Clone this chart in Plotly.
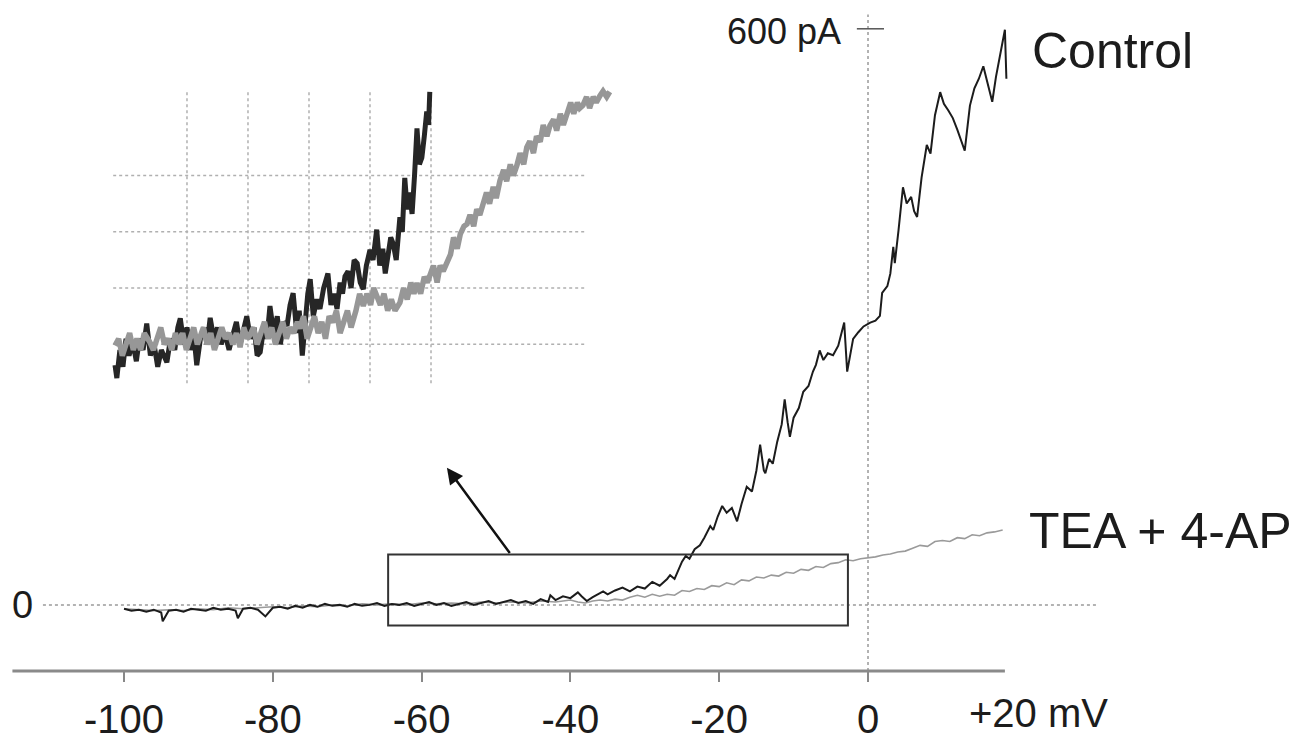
import plotly.graph_objects as go

# ---------------- data ----------------
# Main panel: membrane potential (mV) vs current (pA)
ctrl_mv = [-100, -99, -98, -97, -96, -95, -94.8, -94, -93, -92, -91, -90, -89, -88, -87, -86, -85, -84.7,
           -84, -83, -82, -81, -80, -79, -78, -77, -76, -75, -74, -73, -72, -71, -70, -69, -68, -67, -66,
           -65, -64, -63, -62, -61, -60, -59, -58, -57, -56, -55, -54, -53, -52, -51, -50, -49, -48, -47,
           -46, -45, -44, -43, -42.7, -42, -41, -40, -39, -38.5, -37.8, -37, -36, -35.6, -35, -34, -33,
           -32, -31, -30, -29, -28, -27, -26.6, -26, -25.3, -25, -24.5, -24, -23.3, -22.6, -22, -21.2,
           -20.8, -20.2, -19.6, -19, -18.3, -17.6, -17, -16.3, -15.6, -15, -14.5, -14, -13.8, -13.3,
           -12.8, -12.2, -11.6, -11.2, -10.8, -10.5, -10, -9.3, -8.7, -8, -7.4, -7, -6.5, -6, -5.4, -4.7,
           -4, -3.6, -3.2, -2.8, -2.4, -2, -1.3, -0.6, 0.3, 1, 1.6, 1.9, 2.6, 3, 3.4, 3.6, 4.1, 4.7, 5.2,
           5.8, 6.2, 6.6, 7.2, 7.9, 8.4, 9, 9.7, 10.2, 10.8, 11.4, 12, 12.5, 13, 13.4, 13.7, 14.3, 14.9,
           15.5, 16, 16.7, 17.2, 17.7, 18.1, 18.4, 18.6]
ctrl_pa = [-4, -6, -5, -7, -5, -8, -17, -6, -5, -7, -4, -5, -6, -3, -5, -4, -6, -14,
           -4, -3, -5, -12, -3, -2, -4, -1, -3, 0, -2, 1, -1, 0, -2, 1, -1, 0, 2,
           -1, 1, 0, 2, -1, 1, 3, 0, 2, -1, 1, 3, 0, 2, 4, 1, 3, 5, 2,
           4, 1, 6, 3, 10, 5, 9, 7, 13, 9, 4, 8, 12, 14, 11, 15, 18,
           14, 19, 17, 24, 20, 27, 31, 27, 41, 45, 51, 48, 58, 62, 70, 82,
           78, 92, 103, 96, 101, 87, 105, 123, 118, 140, 167, 140, 137, 152,
           147, 170, 188, 214, 190, 175, 195, 205, 222, 228, 243, 250, 265, 255, 262, 260,
           270, 282, 294, 243, 262, 277, 284, 290, 294, 296, 301, 325, 332, 345, 373, 356, 390, 435, 418,
           425, 410, 404, 445, 479, 470, 510, 534, 522, 515, 507, 495, 485, 473, 500, 520, 538, 548,
           561, 545, 524, 550, 571, 585, 599, 548]

tea_mv = [-100, -98, -96, -94, -92, -90, -88, -86, -84, -82, -80, -78, -76, -74, -72, -70, -68, -66,
          -64, -62, -60, -58, -56, -54, -52, -50, -48, -46, -44, -42, -40, -39, -38, -37, -36, -35,
          -34, -33, -32, -31, -30, -29, -28, -27, -26, -25, -24, -23, -22, -21, -20, -19, -18, -17,
          -16, -15, -14, -13, -12, -11, -10, -9, -8, -7, -6, -5, -4, -3, -2, -1, 0, 1, 2, 3, 4, 5,
          6, 7, 8, 9, 10, 11, 12, 13, 14, 15, 16, 17, 18.1]
tea_pa = [-4, -5, -6, -5, -6, -4, -5, -3, -4, -3, -2, -3, -1, -2, 0, -1, 1, 0,
          1, 0, 2, 1, 2, 1, 3, 2, 3, 2, 4, 3, 5, 3, 2, 4, 5, 4,
          6, 5, 8, 10, 8, 11, 9, 11, 10, 15, 14, 17, 16, 20, 19, 23, 21, 26,
          25, 29, 28, 31, 30, 34, 33, 37, 36, 40, 39, 43, 44, 47, 46, 48, 49, 50, 52, 53, 55, 56,
          59, 62, 61, 66, 67, 66, 70, 69, 73, 72, 75, 76, 78]

# Inset: zoomed view (mV vs pA)
in_ctrl_mv = [-71.8, -71.5, -71.0, -70.5, -70, -69.5, -68.9, -68.3, -67.8, -67.2, -66.6, -66.0, -65.4,
              -64.8, -64.2, -63.3, -62.7, -62.0, -61.5, -61.1, -60.5, -60, -59.4, -58.9, -58.4, -57.8,
              -57.2, -56.7, -56.2, -55.6, -55, -54.4, -53.8, -53.1, -52.5, -51.9, -51.3, -50.7, -50.2,
              -49.6, -49, -48.5, -48, -47.4, -46.9, -46.4, -45.8, -45.2, -44.7, -44.1, -43.6, -43.1,
              -42.6, -42, -41.6, -41.1, -40.6, -40.2, -39.8, -39.3, -38.7, -38.2, -37.6, -36.9, -36.4,
              -35.9, -35.4, -34.9, -34.5, -34.1, -33.6, -33.1, -32.6, -32.1, -31.6, -31.1, -30.6, -30,
              -29.5, -28.9, -28.4, -27.9, -27.5, -27, -26.6, -26.2, -25.7, -25.1, -24.7, -24.3, -23.9,
              -23.5, -23.1, -22.7, -22.3, -21.9, -21.5, -21.1, -20.7, -20.4, -20.2]
in_ctrl_pa = [-3.7, -6, -1, -4, 1, -2, 0.4, -3, 1, -1, 3.7, -2, 0,
              -4, -1, -3.2, 1, -1, 3, 4.6, 0, 3, -1, 2, -3.7, 1,
              3, 0, 4.7, 1, 3, 0, 2, -1, 1.6, 4, 0, 3, 5,
              1, 3, -2, -1.4, 3, 1, 6.8, 2, 5, 0, 4, 3.3, 7,
              9.1, 2, 6, -2, 5, 9, 11.6, 5, 8, 6.3, 10, 12.6, 7,
              9, 6.3, 11, 9, 12.1, 13, 10, 15, 14.4, 11, 9.8, 14, 16.8,
              15, 20.4, 14, 17, 12.6, 16, 19, 17.9, 15, 22.6, 20, 29.6, 24,
              27, 23.2, 30, 38.4, 32, 33.2, 37, 41.4, 39, 44.9]

in_tea_mv = [-71.8, -71.2, -70.6, -70, -69.4, -68.8, -68.2, -67.6, -67, -66.1, -65.5, -64.9, -64.3,
             -63.7, -63.1, -62.5, -61.9, -61.3, -60.7, -60.1, -59.5, -58.9, -58.3, -57.9, -57.3, -56.7,
             -56.1, -55.5, -54.9, -54.3, -53.7, -53.1, -52.5, -51.9, -51.3, -50.7, -50.1, -49.7, -49.1,
             -48.5, -47.9, -47.3, -46.7, -46.1, -45.5, -44.9, -44.3, -43.7, -43.1, -42.5, -41.9, -41.5,
             -40.9, -40.3, -39.7, -39.1, -38.5, -37.9, -37.3, -36.7, -36.1, -35.5, -34.9, -34.3, -33.7,
             -33.1, -32.8, -32.3, -31.7, -31.1, -30.5, -29.9, -29.4, -28.9, -28.3, -27.7, -27.1, -26.5,
             -25.9, -25.1, -24.5, -23.9, -23.3, -22.8, -22.3, -21.7, -21.1, -20.6, -20.2, -19.6, -19,
             -18.5, -18, -17.4, -16.8, -16.3, -15.7, -15.2, -14.6, -14.1, -13.6, -13, -12.5, -12, -11.5,
             -10.9, -10.4, -9.8, -9.3, -8.7, -8.1, -7.6, -7, -6.5, -5.9, -5.4, -4.8, -4.3, -3.8, -3.2,
             -2.7, -2.1, -1.6, -1.0, -0.5, 0.1, 0.6, 1.2, 1.7, 2.3, 2.9, 3.4, 4, 4.4, 4.9, 5.5, 6, 6.6,
             7.1, 7.7, 8.2, 8.8, 9.3]
in_tea_pa = [-0.2, 1, -2, 0, 2, -1, 1, -1, 2, 0.4, -1, 1, 3,
             0, 1, -1, 2, 0, 2, -1, 1, 3, 0, 1, 3, 0,
             2, -1, 1, 3, 1, 2, 0, 2, -0.5, 3, 1, 1.6, 3,
             0, 2, 4, 1, 3, 0, 2, 4, 1, 3, 2, 4, 2.8,
             5, 1, 3, 5, 2, 4, 1, 5, 3.9, 6, 2, 4, 6,
             3, 3.9, 6, 9, 6.8, 9, 7, 10, 8.6, 7, 9, 6, 8,
             6, 7.4, 10, 8, 11, 9, 10.9, 9, 12, 11, 12.1, 14, 11,
             14, 13, 14.4, 16, 19, 17, 19.6, 21, 21.4, 23, 21, 24, 23, 24.9,
             27, 25, 28, 26, 29.1, 31, 29, 32, 30, 31.9, 34, 32, 35, 36.1, 34,
             37, 36, 39, 37, 38.9, 40, 38, 41, 39, 41.4, 43, 41, 43, 42, 42.5, 44, 42, 44,
             43, 44.2, 45, 44, 44.9]

main_ticks = [-100, -80, -60, -40, -20, 0]
main_tick_text = ["-100", "-80", "-60", "-40", "-20", "0"]
inset_grid_x = [-60, -50, -40, -30, -20]
inset_grid_y = [0, 10, 20, 30]
inset_labels = [(-60, "-60"), (-40, "-40")]

# ---------------- figure ----------------
FONT = "Liberation Sans, Arial, Helvetica, sans-serif"
DARK = "#1c1c1c"

fig = go.Figure()

# main traces
fig.add_trace(go.Scatter(x=tea_mv, y=tea_pa, mode="lines",
                         line=dict(color="#9a9a9a", width=1.6), xaxis="x", yaxis="y",
                         hoverinfo="skip", showlegend=False))
fig.add_trace(go.Scatter(x=ctrl_mv, y=ctrl_pa, mode="lines",
                         line=dict(color=DARK, width=2), xaxis="x", yaxis="y",
                         hoverinfo="skip", showlegend=False))
# inset traces
fig.add_trace(go.Scatter(x=in_ctrl_mv, y=in_ctrl_pa, mode="lines",
                         line=dict(color="#262626", width=5), xaxis="x2", yaxis="y2",
                         hoverinfo="skip", showlegend=False))
fig.add_trace(go.Scatter(x=in_tea_mv, y=in_tea_pa, mode="lines",
                         line=dict(color="#979797", width=5.5), xaxis="x2", yaxis="y2",
                         hoverinfo="skip", showlegend=False))

shapes = []
# main axis line
shapes.append(dict(type="line", xref="x", yref="paper", x0=-115, x1=18.4, y0=0, y1=0,
                   line=dict(color="#8a8a8a", width=3)))
# zero dotted line
shapes.append(dict(type="line", xref="x", yref="y", x0=-110.9, x1=30.8, y0=0, y1=0,
                   line=dict(color="#9a9a9a", width=1.5, dash="dot"), layer="below"))
# vertical dotted line at 0 mV
shapes.append(dict(type="line", xref="x", yref="y", x0=0, x1=0, y0=-68.86, y1=615,
                   line=dict(color="#9a9a9a", width=1.5, dash="dot"), layer="below"))
# 600 pA tick
shapes.append(dict(type="line", xref="x", yref="y", x0=-1.5, x1=2.15, y0=600, y1=600,
                   line=dict(color="#555555", width=1.5)))
# zoom box
shapes.append(dict(type="rect", xref="x", yref="y", x0=-64.5, x1=-2.7, y0=-21.6, y1=52.4,
                   line=dict(color="#333333", width=2)))
# inset grid
for gx in inset_grid_x:
    shapes.append(dict(type="line", xref="x2", yref="y2", x0=gx, x1=gx, y0=-6.9, y1=45.2,
                       line=dict(color="#b0b0b0", width=1.5, dash="dot"), layer="below"))
for gy in inset_grid_y:
    shapes.append(dict(type="line", xref="x2", yref="y2", x0=-72.1, x1=5.6, y0=gy, y1=gy,
                       line=dict(color="#b0b0b0", width=1.5, dash="dot"), layer="below"))

annotations = []
txt = dict(family=FONT, color=DARK)
annotations.append(dict(x=-113.7, y=0, xref="x", yref="y", text="0", showarrow=False,
                        font=dict(size=38, **txt), xanchor="center", yanchor="middle"))
annotations.append(dict(x=-3.4, y=600, xref="x", yref="y", text="600 pA", showarrow=False,
                        font=dict(size=36, **txt), xanchor="right", yanchor="middle", yshift=-3))
annotations.append(dict(x=21.8, y=576.6, xref="x", yref="y", text="Control", showarrow=False,
                        font=dict(size=50, **txt), xanchor="left", yanchor="middle"))
annotations.append(dict(x=21.4, y=77.1, xref="x", yref="y", text="TEA + 4-AP", showarrow=False,
                        font=dict(size=50, **txt), xanchor="left", yanchor="middle"))
annotations.append(dict(x=13.3, y=-0.0632, xref="x", yref="paper", text="+20 mV", showarrow=False,
                        font=dict(size=40, **txt), xanchor="left", yanchor="middle"))
# inset labels
for lx, lt in inset_labels:
    annotations.append(dict(x=lx, y=-11.6, xref="x2", yref="y2", text=lt, showarrow=False,
                            font=dict(size=31, **txt), xanchor="center", yanchor="middle"))
annotations.append(dict(x=-20, y=-11.6, xref="x2", yref="y2", text="-20 mV", showarrow=False,
                        font=dict(size=31, **txt), xanchor="left", yanchor="middle", xshift=-29))
# arrow from box to inset
annotations.append(dict(x=-56.6, y=142.9, ax=-48.0, ay=52.4, xref="x", yref="y",
                        axref="x", ayref="y", text="", showarrow=True, arrowhead=2,
                        arrowsize=1.3, arrowwidth=2.5, arrowcolor="#111111"))

fig.update_layout(
    width=1308, height=741,
    margin=dict(l=0, r=0, t=0, b=61),
    paper_bgcolor="white", plot_bgcolor="white",
    showlegend=False,
    shapes=shapes, annotations=annotations,
    xaxis=dict(range=[-116.67, 59.14], domain=[0, 1], showgrid=False, zeroline=False,
               showline=False, tickmode="array", tickvals=main_ticks, ticktext=main_tick_text,
               ticks="outside", ticklen=10, tickwidth=1.5, tickcolor="#888888",
               ticklabelstandoff=3,
               tickfont=dict(size=40, family=FONT, color=DARK), fixedrange=True),
    yaxis=dict(range=[-68.86, 630], domain=[0, 1], visible=False, fixedrange=True),
    xaxis2=dict(range=[-74.26, 10.98], domain=[0.07645, 0.474], anchor="y2", visible=False,
                fixedrange=True),
    yaxis2=dict(range=[-8.95, 47.19], domain=[0.4118, 0.8824], anchor="x2", visible=False,
                fixedrange=True),
)

# remove the page's default body margin so the figure starts at the window corner
fig.write_html("out.html", config={"displayModeBar": False},
               post_script="document.body.style.margin='0';document.body.style.overflow='hidden';")
